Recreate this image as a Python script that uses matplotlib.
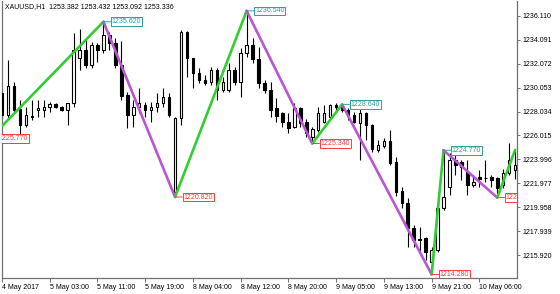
import matplotlib
matplotlib.use("Agg")
import matplotlib.pyplot as plt
import numpy as np

plt.rcParams['font.family'] = ['Liberation Sans', 'DejaVu Sans']

# ---- data (hourly XAUUSD bars, index 0..86) ----
opens = [1229.61, 1227.75, 1230.20, 1228.25, 1226.90, 1227.70, 1228.17, 1228.17, 1228.42, 1228.68,
         1228.42, 1228.17, 1228.76, 1232.56, 1233.24, 1231.97, 1233.66, 1233.24, 1234.50, 1233.83,
         1231.97, 1229.44, 1227.75, 1228.42, 1228.59, 1228.17, 1228.42, 1228.76, 1229.27, 1221.24,
         1227.50, 1234.76, 1232.56, 1231.29, 1230.70, 1230.53, 1231.55, 1229.86, 1229.86, 1231.55,
         1230.53, 1232.98, 1233.66, 1232.48, 1230.45, 1229.86, 1228.34, 1227.92, 1227.16, 1226.73,
         1228.34, 1227.16, 1225.89, 1226.48, 1227.16, 1227.58, 1228.59, 1228.42, 1228.17, 1227.75,
         1227.07, 1227.92, 1226.90, 1224.79, 1225.13, 1225.55, 1223.78, 1221.33, 1220.31, 1218.20,
         1217.27, 1217.36, 1215.33, 1216.34, 1219.89, 1221.67, 1223.95, 1223.78, 1222.94, 1221.84,
         1222.51, 1222.45, 1222.51, 1222.43, 1221.84, 1222.85, 1223.10]
highs = [1229.90, 1232.39, 1230.50, 1229.01, 1228.42, 1229.01, 1229.01, 1229.01, 1228.85, 1228.76,
         1228.50, 1228.80, 1234.67, 1235.00, 1234.08, 1233.91, 1233.83, 1235.62, 1234.76, 1234.25,
         1234.00, 1229.69, 1229.01, 1230.03, 1228.85, 1228.85, 1229.61, 1230.03, 1229.61, 1227.60,
         1234.90, 1234.80, 1232.60, 1231.72, 1231.13, 1231.80, 1231.72, 1230.96, 1232.14, 1231.80,
         1233.41, 1236.54, 1234.25, 1233.50, 1230.70, 1230.50, 1229.18, 1228.00, 1227.92, 1228.76,
         1228.42, 1227.40, 1226.73, 1228.42, 1228.59, 1228.68, 1228.76, 1228.64, 1228.34, 1228.00,
         1228.34, 1228.00, 1227.00, 1225.64, 1225.80, 1226.48, 1224.20, 1221.67, 1220.74, 1218.46,
         1218.29, 1217.45, 1216.60, 1220.82, 1224.77, 1224.54, 1224.62, 1223.95, 1223.95, 1222.68,
         1223.10, 1223.95, 1222.68, 1222.51, 1223.20, 1225.40, 1224.80]
lows = [1227.50, 1227.50, 1228.00, 1226.06, 1226.73, 1227.33, 1227.58, 1227.58, 1228.00, 1228.34,
        1228.10, 1226.90, 1228.42, 1231.55, 1231.72, 1231.72, 1232.22, 1232.98, 1233.24, 1231.72,
        1229.01, 1226.65, 1226.73, 1227.92, 1227.58, 1227.16, 1228.00, 1228.42, 1227.58, 1220.82,
        1226.90, 1230.96, 1230.03, 1230.45, 1230.28, 1230.28, 1229.01, 1229.69, 1229.69, 1230.28,
        1229.27, 1232.65, 1232.14, 1230.03, 1229.61, 1227.58, 1227.16, 1226.73, 1226.23, 1226.65,
        1226.73, 1225.89, 1225.34, 1226.31, 1227.07, 1227.50, 1228.17, 1228.00, 1227.33, 1227.07,
        1223.95, 1225.64, 1224.62, 1224.62, 1225.00, 1223.52, 1220.90, 1219.89, 1216.60, 1216.60,
        1216.09, 1215.50, 1214.28, 1216.20, 1219.70, 1220.99, 1222.68, 1222.26, 1220.99, 1221.67,
        1221.67, 1222.09, 1221.67, 1220.77, 1221.60, 1222.70, 1222.30]
closes = [1227.75, 1230.20, 1228.17, 1226.90, 1227.75, 1227.60, 1228.34, 1228.42, 1228.68, 1228.42,
          1228.17, 1228.76, 1233.24, 1233.24, 1231.97, 1233.66, 1233.24, 1234.50, 1233.83, 1231.97,
          1229.35, 1227.75, 1228.42, 1228.76, 1228.17, 1228.42, 1228.76, 1229.27, 1227.75, 1227.50,
          1234.76, 1232.56, 1231.29, 1230.70, 1230.45, 1231.55, 1229.86, 1230.53, 1231.55, 1230.53,
          1232.98, 1233.66, 1232.48, 1230.45, 1229.86, 1228.17, 1227.66, 1227.16, 1226.65, 1228.34,
          1227.07, 1226.23, 1226.56, 1227.92, 1227.92, 1228.59, 1228.42, 1228.17, 1227.75, 1227.16,
          1227.92, 1226.90, 1224.88, 1225.21, 1225.55, 1223.69, 1221.24, 1220.31, 1218.20, 1217.19,
          1217.19, 1216.18, 1216.34, 1219.89, 1220.82, 1223.95, 1223.52, 1223.36, 1221.84, 1222.09,
          1222.34, 1222.40, 1222.26, 1221.58, 1222.85, 1223.95, 1223.52]

zz_index = [-2, 17, 29, 41, 52, 57, 72, 74, 83, 86]
zz_price = [1225.77, 1235.62, 1220.82, 1236.54, 1225.34, 1228.64, 1214.28, 1224.77, 1220.77, 1224.80]
zz_labels = ["1225.770", "1235.620", "1220.820", "1236.540", "1225.340", "1228.640",
             "1214.280", "1224.770", "1220.770"]

xtick_index = [0, 8, 16, 24, 32, 40, 48, 56, 64, 72, 80]
xtick_labels = ["4 May 2017", "5 May 03:00", "5 May 11:00", "5 May 19:00", "8 May 04:00",
                "8 May 12:00", "8 May 20:00", "9 May 05:00", "9 May 13:00", "9 May 21:00",
                "10 May 06:00"]
ytick_values = [1215.920, 1217.939, 1219.958, 1221.977, 1223.996, 1226.015,
                1228.034, 1230.053, 1232.072, 1234.091, 1236.110]
header = "XAUUSD,H1  1253.382 1253.432 1253.092 1253.336"

# ---- figure ----
W, H = 560, 294
fig = plt.figure(figsize=(W / 100, H / 100), dpi=100)
ax = fig.add_axes([2 / W, 1 - 278 / H, 515 / W, 276.5 / H])
FS = 5.0
AXC = '#707070'

x = np.arange(len(opens))
o = np.array(opens); c = np.array(closes); hi = np.array(highs); lo = np.array(lows)

ax.vlines(x, lo, hi, color='black', lw=0.8, zorder=2)
up = c >= o
bottoms = np.minimum(o, c)
heights = np.maximum(np.abs(c - o), 0.02)
ax.bar(x, heights, bottom=bottoms, width=0.42,
       color=np.where(up, 'white', 'black'), edgecolor='black', lw=0.8, zorder=3)

# zigzag
GREEN = '#32CD32'
PURPLE = '#BA55D3'
for i in range(len(zz_index) - 1):
    col = GREEN if zz_price[i + 1] > zz_price[i] else PURPLE
    ax.plot(zz_index[i:i + 2], zz_price[i:i + 2], color=col, lw=1.9,
            solid_capstyle='round', zorder=4)

TEAL = '#2E9E9E'
RED = '#FF3B3B'
for i, lab in enumerate(zz_labels):
    is_high = (i + 1 < len(zz_price) and zz_price[i] > zz_price[i + 1])
    col = TEAL if is_high else RED
    t = ax.annotate(lab, xy=(zz_index[i], zz_price[i]), xytext=(6.0, 0),
                    textcoords='offset points', ha='left', va='center',
                    fontsize=FS, color=col, zorder=6, annotation_clip=False,
                    bbox=dict(boxstyle='square,pad=0.12', fc='white', ec=col, lw=0.7),
                    arrowprops=dict(arrowstyle='-', color=col, lw=0.7,
                                    shrinkA=0, shrinkB=0))
    t.set_clip_on(True)
    t.set_clip_box(ax.bbox)

ax.set_xlim(0.117, 86.31)
ax.set_ylim(1213.98, 1237.33)

ax.yaxis.tick_right()
ax.set_yticks(ytick_values)
ax.set_yticklabels([f"{v:.3f}" for v in ytick_values])
ax.set_xticks(xtick_index)
ax.set_xticklabels(xtick_labels)
for lbl in ax.get_xticklabels():
    lbl.set_horizontalalignment('left')
ax.tick_params(axis='y', direction='out', length=2.5, width=0.7, color=AXC,
               labelsize=FS, pad=1.5)
ax.tick_params(axis='x', direction='out', length=3, width=0.7, color=AXC,
               labelsize=FS, pad=1.2)
for s in ['left', 'bottom', 'right']:
    ax.spines[s].set_color(AXC)
    ax.spines[s].set_linewidth(0.9)
ax.spines['top'].set_visible(False)

fig.text(5 / W, 1 - 7 / H, header, fontsize=FS, ha='left', va='center')

fig.savefig('out.png', dpi=100)
